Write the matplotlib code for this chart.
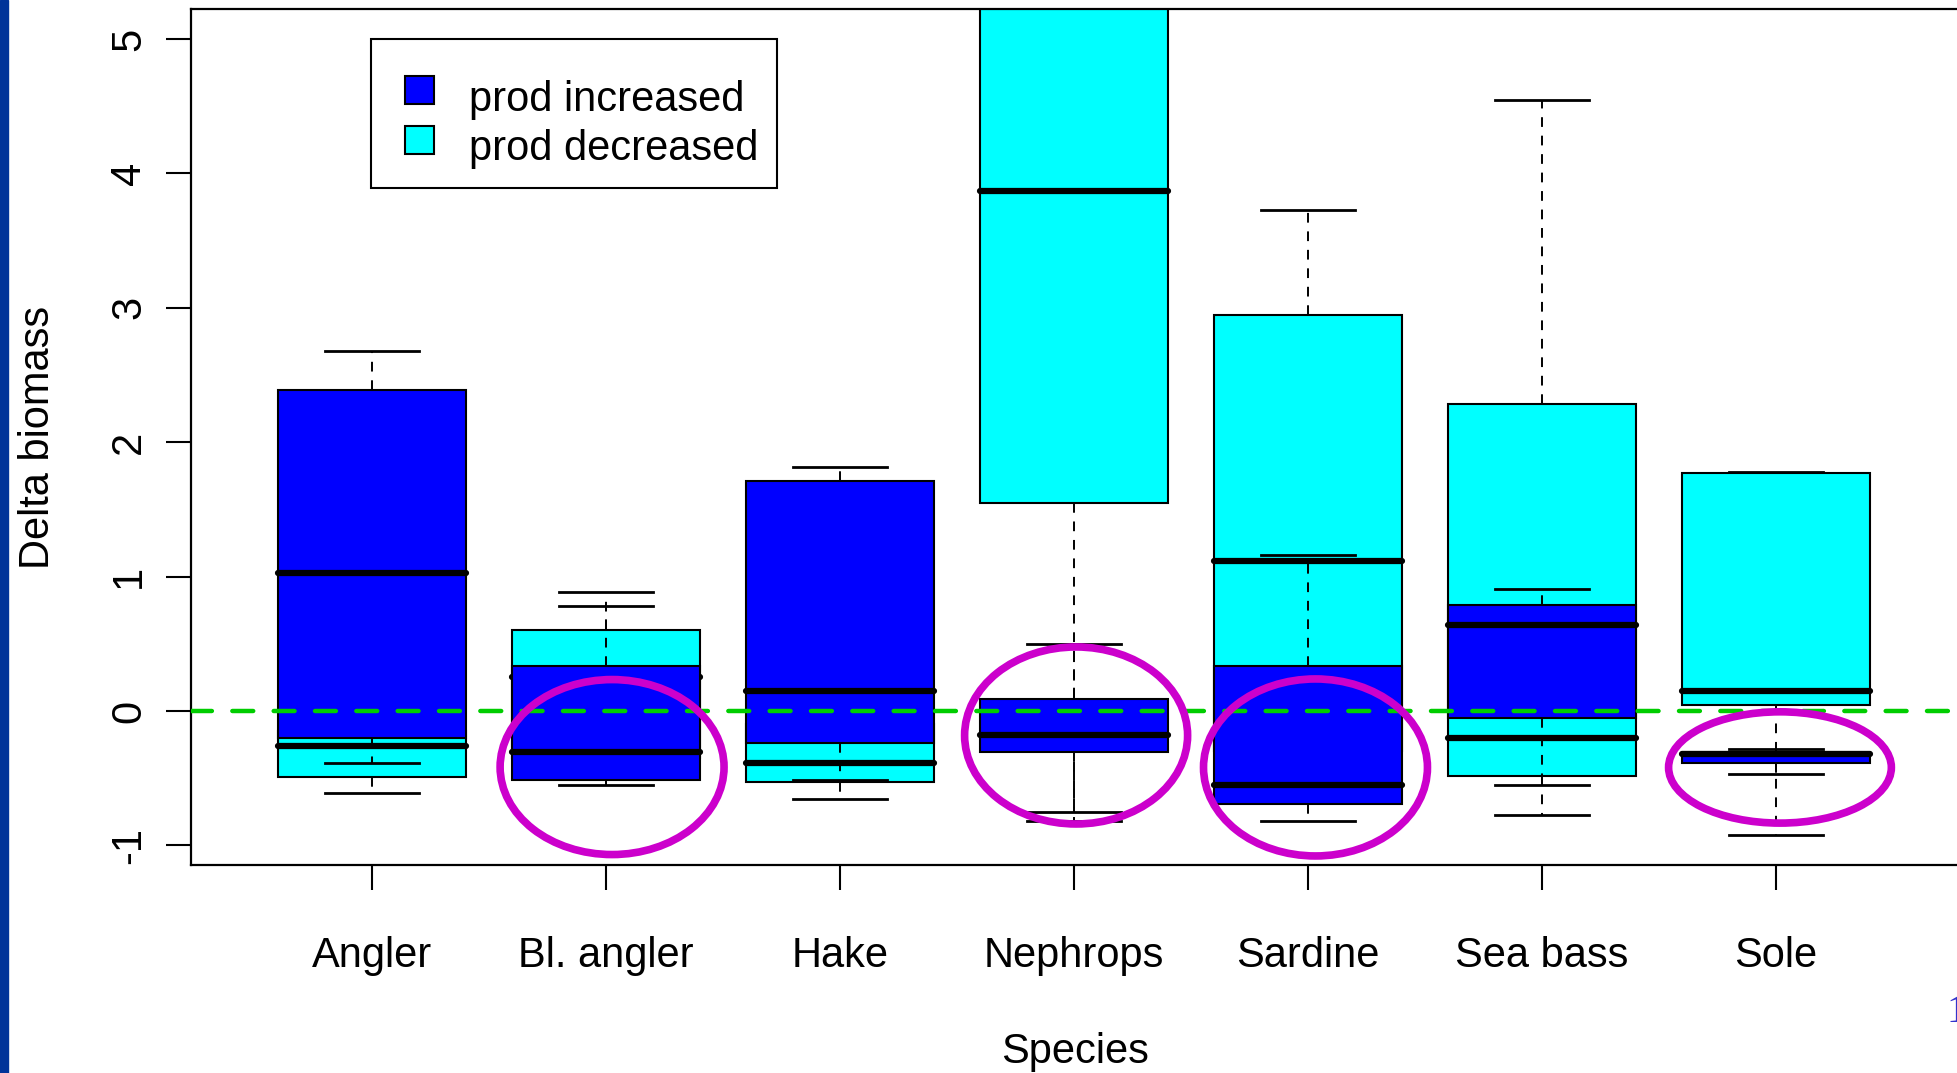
import matplotlib.pyplot as plt
from matplotlib.patches import Patch, Ellipse, Rectangle
from matplotlib.legend_handler import HandlerPatch

plt.rcParams['font.family'] = ['Liberation Sans', 'DejaVu Sans']
plt.rcParams['axes.unicode_minus'] = False

species = ["Angler", "Bl. angler", "Hake", "Nephrops", "Sardine", "Sea bass", "Sole"]

# prod increased
inc_whislo = [-0.386, -0.551, -0.512, -0.751, -0.821, -0.551, -0.469]
inc_q1 = [-0.199, -0.512, -0.240, -0.307, -0.692, -0.055, -0.389]
inc_med = [1.029, -0.306, 0.149, -0.181, -0.551, 0.640, -0.322]
inc_q3 = [2.389, 0.333, 1.709, 0.087, 0.337, 0.786, -0.305]
inc_whishi = [2.678, 0.784, 1.814, 0.496, 1.161, 0.908, -0.285]

# prod decreased
dec_whislo = [-0.612, -0.450, -0.656, -0.820, -0.600, -0.776, -0.920]
dec_q1 = [-0.493, -0.350, -0.528, 1.545, -0.300, -0.484, 0.045]
dec_med = [-0.264, 0.250, -0.386, 3.869, 1.114, -0.201, 0.149]
dec_q3 = [-0.150, 0.606, -0.100, 6.100, 2.946, 2.284, 1.772]
dec_whishi = [0.000, 0.886, 0.200, 7.500, 3.725, 4.546, 1.775]

# highlighted species (ellipse centre x, centre y, width, height)
circ_x = [2.026, 4.009, 5.032, 7.017]
circ_y = [-0.417, -0.182, -0.420, -0.420]
circ_w = [0.957, 0.953, 0.957, 0.952]
circ_h = [1.302, 1.317, 1.317, 0.828]


def make_stats(lo, q1, med, q3, hi):
    return [dict(whislo=a, q1=b, med=c, q3=d, whishi=e, fliers=[])
            for a, b, c, d, e in zip(lo, q1, med, q3, hi)]


# small square key, right side of its handle box, centred a bit above the baseline
def square_key(legend, orig_handle, xdescent, ydescent, width, height, fontsize):
    sq = 0.68 * fontsize
    return Rectangle((-xdescent + width - sq, -ydescent + 0.49 * fontsize - sq / 2), sq, sq)


fig = plt.figure(figsize=(19.57, 10.73), dpi=100)
ax = fig.add_axes([191/1957, (1073-865.3)/1073, (1960-191)/1957, (865.3-9.3)/1073])

pos = list(range(1, len(species)+1))
common = dict(positions=pos, widths=0.8, capwidths=0.4, patch_artist=True,
              showfliers=False, manage_ticks=False,
              medianprops=dict(color="black", linewidth=4.5, solid_capstyle="round"),
              whiskerprops=dict(color="black", linewidth=1.4, linestyle=(0, (5, 4.5))),
              capprops=dict(color="black", linewidth=2))

ax.bxp(make_stats(dec_whislo, dec_q1, dec_med, dec_q3, dec_whishi),
       boxprops=dict(facecolor="#00FFFF", edgecolor="black", linewidth=1.5),
       zorder=2, **common)
ax.bxp(make_stats(inc_whislo, inc_q1, inc_med, inc_q3, inc_whishi),
       boxprops=dict(facecolor="#0000FF", edgecolor="black", linewidth=1.5),
       zorder=3, **common)

ax.axhline(0, color="#00CD00", linewidth=3.2, linestyle=(0, (4.7, 4.6)),
           dash_capstyle="round", zorder=4)

for cx, cy, w, h in zip(circ_x, circ_y, circ_w, circ_h):
    ax.add_patch(Ellipse((cx, cy), w, h, fill=False, edgecolor="#CC00CC",
                         linewidth=5.5, zorder=6))

ax.set_xlim(0.2265, 0.2265 + (1960-191)/234)
ax.set_ylim(-1.148, 5.221)
ax.set_xticks(pos)
ax.set_xticklabels(species)
ax.set_yticks([-1, 0, 1, 2, 3, 4, 5])
ax.tick_params(axis="both", length=18, width=1.5, labelsize=30)
ax.tick_params(axis="x", pad=33)
ax.tick_params(axis="y", pad=12)
for lab in ax.get_yticklabels():
    lab.set_rotation(90)
    lab.set_va("center")
for sp in ax.spines.values():
    sp.set_linewidth(1.6)

ax.set_xlabel("Species", fontsize=30, labelpad=40)
ax.set_ylabel("Delta biomass", fontsize=30)
ax.yaxis.set_label_coords(-0.075, 0.5)

handles = [Patch(facecolor="#0000FF", edgecolor="black", linewidth=1.5, label="prod increased"),
           Patch(facecolor="#00FFFF", edgecolor="black", linewidth=1.5, label="prod decreased")]
# blank title just pads the top of the box
leg = ax.legend(handles=handles, loc="upper left", bbox_to_anchor=(0.1018, 0.9653),
                borderaxespad=0, fontsize=30, title=" ", title_fontsize=8.5,
                handlelength=1.05, handleheight=0.7,
                handletextpad=0.84, borderpad=0.45, labelspacing=0.235,
                handler_map={Patch: HandlerPatch(patch_func=square_key)},
                fancybox=False, framealpha=1, edgecolor="black")
leg.get_frame().set_linewidth(1.5)
leg.set_zorder(7)

# slide border and page number
fig.add_artist(Rectangle((0, 0), 8/1957, 1, transform=fig.transFigure,
                         color="#003399", zorder=10))
fig.text(1947/1957, 1-1022/1073, "1", color="#3333CC", fontsize=29,
         family="Liberation Serif", ha="left", va="baseline")

fig.savefig("out.png", dpi=100)
